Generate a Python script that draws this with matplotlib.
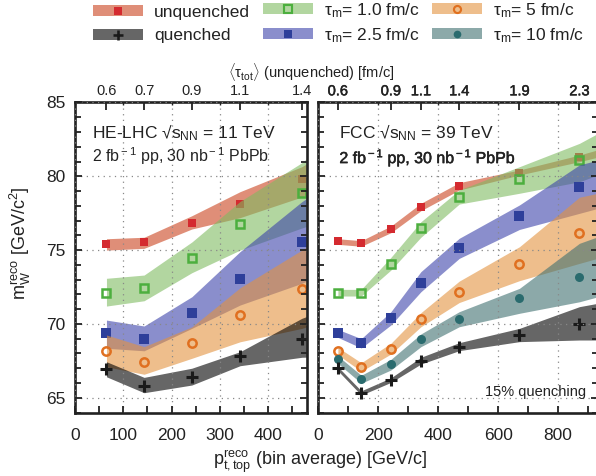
import matplotlib
matplotlib.use("Agg")
import matplotlib.pyplot as plt
import matplotlib.patheffects as pe
from matplotlib.patches import Patch
from matplotlib.lines import Line2D
from matplotlib.ticker import MultipleLocator

plt.rcParams['font.family'] = ['Liberation Sans', 'DejaVu Sans']
plt.rcParams['mathtext.fontset'] = 'custom'
plt.rcParams['mathtext.rm'] = 'Liberation Sans'
plt.rcParams['mathtext.it'] = 'Liberation Sans:italic'
plt.rcParams['mathtext.bf'] = 'Liberation Sans:bold'

# ---- data: HE-LHC (left panel) ----
x_he = [65, 143, 242, 342, 470]
xb_he = [65, 143, 242, 342, 470, 480]   # band edges run to the frame
tau_he = ['0.6', '0.7', '0.9', '1.1', '1.4']

he_unq = [75.39, 75.53, 76.82, 78.10, 79.82]
he_unq_hi = [75.77, 75.87, 77.33, 78.96, 80.65, 80.85]
he_unq_lo = [75.00, 75.12, 76.43, 77.20, 78.60, 78.75]
he_t1 = [72.11, 72.45, 74.49, 76.75, 78.85]
he_t1_hi = [73.09, 73.31, 75.55, 78.30, 80.92, 81.20]
he_t1_lo = [71.21, 71.57, 73.47, 75.00, 76.50, 76.60]
he_t25 = [69.36, 68.98, 70.72, 73.02, 75.57]
he_t25_hi = [70.26, 69.86, 71.84, 74.90, 78.28, 78.50]
he_t25_lo = [68.35, 68.18, 69.70, 71.28, 72.75, 72.90]
he_t5 = [68.14, 67.40, 68.69, 70.60, 72.34]
he_t5_hi = [69.25, 68.46, 69.80, 72.45, 75.00, 75.20]
he_t5_lo = [67.10, 66.59, 67.67, 68.79, 69.70, 69.80]
he_q = [66.92, 65.79, 66.43, 67.82, 68.96]
he_q_hi = [67.44, 66.38, 67.00, 68.12, 70.38, 70.50]
he_q_lo = [66.42, 65.34, 65.86, 67.17, 67.74, 67.75]

# ---- data: FCC (right panel) ----
x_fcc = [65, 143, 242, 342, 470, 671, 871]
xb_fcc = [65, 143, 242, 342, 470, 671, 871, 933]
tau_fcc_x = [65, 242, 342, 470, 671, 871]
tau_fcc = ['0.6', '0.9', '1.1', '1.4', '1.9', '2.3']

fcc_unq = [75.60, 75.46, 76.41, 77.90, 79.32, 80.24, 81.29]
fcc_unq_hi = [75.77, 75.64, 76.63, 78.17, 79.57, 80.43, 81.44, 81.80]
fcc_unq_lo = [75.39, 75.26, 76.18, 77.67, 79.07, 80.09, 80.99, 81.30]
fcc_t1 = [72.11, 72.11, 74.06, 76.48, 78.58, 79.82, 81.10]
fcc_t1_hi = [72.34, 72.34, 74.51, 76.92, 79.07, 80.65, 82.23, 82.91]
fcc_t1_lo = [71.89, 71.89, 73.65, 75.87, 78.12, 78.85, 79.63, 80.09]
fcc_t25 = [69.36, 68.69, 70.38, 72.79, 75.16, 77.31, 79.30]
fcc_t25_hi = [69.63, 69.00, 70.83, 73.54, 75.80, 78.06, 80.77, 81.10]
fcc_t25_lo = [69.09, 68.37, 69.93, 72.18, 74.44, 76.40, 77.49, 77.83]
fcc_t5 = [68.19, 67.06, 68.32, 70.33, 72.18, 74.08, 76.18]
fcc_t5_hi = [68.41, 67.37, 68.69, 70.76, 72.90, 75.23, 78.58, 78.85]
fcc_t5_lo = [67.91, 66.79, 67.96, 69.81, 71.45, 72.93, 74.10, 74.45]
fcc_t10 = [67.60, 66.25, 67.28, 68.96, 70.31, 71.73, 73.20]
fcc_t10_hi = [67.83, 66.52, 67.60, 69.32, 70.83, 72.41, 75.46, 75.91]
fcc_t10_lo = [67.33, 65.98, 66.88, 68.46, 69.81, 70.72, 71.50, 71.84]
fcc_q = [66.99, 65.34, 66.20, 67.51, 68.46, 69.23, 69.99]
fcc_q_hi = [67.10, 65.47, 66.35, 67.74, 68.73, 69.70, 71.17, 71.40]
fcc_q_lo = [66.83, 65.18, 66.04, 67.28, 68.19, 68.80, 68.91, 68.91]

legend_cols = [
    (['unq', 'q'], ['unquenched', 'quenched']),
    (['t1', 't25'], ['τ$_{\\rm m}$= 1.0 fm/c', 'τ$_{\\rm m}$= 2.5 fm/c']),
    (['t5', 't10'], ['τ$_{\\rm m}$= 5 fm/c', 'τ$_{\\rm m}$= 10 fm/c']),
]

# styles: band colour, marker, marker colour, filled?, size
ALPHA = 0.6
styles = {
    'unq': dict(band='#cb431e', marker='s', mc='#d42a2f', fill=True, ms=6.0),
    't1': dict(band='#7fbb61', marker='s', mc='#4caf3e', fill=False, ms=6.0),
    't25': dict(band='#3c43aa', marker='s', mc='#2e3f9a', fill=True, ms=7.0),
    't5': dict(band='#e3933f', marker='o', mc='#e07020', fill=False, ms=6.0),
    't10': dict(band='#3f7171', marker='o', mc='#2a6b6e', fill=True, ms=6.5),
    'q': dict(band='#000000', marker='P', mc='#1a1a1a', fill=True, ms=7.0),
}


def marker_kw(st, scale=1.0):
    if st['marker'] == 'P':
        return dict(marker='+', color=st['mc'], ms=(st['ms'] + 1) * scale, mew=2.2 * scale)
    if st['fill']:
        return dict(marker=st['marker'], color=st['mc'], ms=st['ms'] * scale, mew=0)
    return dict(marker=st['marker'], color=st['mc'], mfc='none', ms=st['ms'] * scale, mew=1.8 * scale)


def draw(ax, x, xb, y, lo, hi, key, i):
    st = styles[key]
    z = 1.0 + 0.2 * i
    ax.fill_between(xb, lo, hi, color=st['band'], alpha=ALPHA, lw=0, zorder=z)
    ax.plot(x, y, ls='none', zorder=z + 0.1, **marker_kw(st))


fig = plt.figure(figsize=(5.96, 4.76), dpi=100)
ax1 = fig.add_axes([75.1 / 596, 0.1334, 231.6 / 596, 0.6513])
ax2 = fig.add_axes([318.4 / 596, 0.1334, 279.6 / 596, 0.6513])

draw(ax1, x_he, xb_he, he_unq, he_unq_lo, he_unq_hi, 'unq', 0)
draw(ax1, x_he, xb_he, he_t1, he_t1_lo, he_t1_hi, 't1', 1)
draw(ax1, x_he, xb_he, he_t25, he_t25_lo, he_t25_hi, 't25', 2)
draw(ax1, x_he, xb_he, he_t5, he_t5_lo, he_t5_hi, 't5', 3)
draw(ax1, x_he, xb_he, he_q, he_q_lo, he_q_hi, 'q', 5)

draw(ax2, x_fcc, xb_fcc, fcc_unq, fcc_unq_lo, fcc_unq_hi, 'unq', 0)
draw(ax2, x_fcc, xb_fcc, fcc_t1, fcc_t1_lo, fcc_t1_hi, 't1', 1)
draw(ax2, x_fcc, xb_fcc, fcc_t25, fcc_t25_lo, fcc_t25_hi, 't25', 2)
draw(ax2, x_fcc, xb_fcc, fcc_t5, fcc_t5_lo, fcc_t5_hi, 't5', 3)
draw(ax2, x_fcc, xb_fcc, fcc_t10, fcc_t10_lo, fcc_t10_hi, 't10', 4)
draw(ax2, x_fcc, xb_fcc, fcc_q, fcc_q_lo, fcc_q_hi, 'q', 5)

bold_fx = [pe.withStroke(linewidth=0.35, foreground='#222222')]

for ax, xmax, xmaj, xmin, xs, tl in [(ax1, 480, 100, 50, x_he, tau_he),
                                      (ax2, 933, 200, 100, tau_fcc_x, tau_fcc)]:
    ax.set_xlim(0, xmax)
    ax.set_ylim(64, 85)
    ax.xaxis.set_major_locator(MultipleLocator(xmaj))
    ax.xaxis.set_minor_locator(MultipleLocator(xmin))
    ax.yaxis.set_major_locator(MultipleLocator(5))
    ax.yaxis.set_minor_locator(MultipleLocator(1))
    ax.tick_params(which='both', direction='in', right=True, top=False,
                   width=1.3, colors='#222222', labelsize=12.5)
    ax.tick_params(axis='x', which='major', length=5, pad=11)
    ax.tick_params(axis='x', which='minor', length=5)
    ax.tick_params(axis='y', which='major', length=5, pad=7)
    ax.tick_params(axis='y', which='minor', length=4)
    ax.set_axisbelow(False)
    ax.grid(True, which='major', ls=(0, (1, 3.5)), color='#888888', lw=0.9)
    for s in ax.spines.values():
        s.set_linewidth(1.9)
        s.set_color('#222222')
    at = ax.twiny()
    at.set_xlim(0, xmax)
    at.set_xticks(xs)
    at.set_xticklabels(tl)
    at.xaxis.set_minor_locator(MultipleLocator(xmaj))
    at.tick_params(which='major', direction='in', length=6, width=1.3,
                   labelsize=10.5, pad=3, colors='#222222')
    at.tick_params(which='minor', direction='in', length=2, width=1.0, colors='#222222')
    for s in at.spines.values():
        s.set_visible(False)
    if ax is ax2:
        for t in at.get_xticklabels():
            t.set_path_effects(bold_fx)

ax2.tick_params(labelleft=False)

# panel annotations
ax1.text(0.072, 0.902, 'HE-LHC √s$_{\\rm NN}$ = 11 TeV', transform=ax1.transAxes,
         fontsize=12.5, va='center', ha='left', color='#222222')
ax1.text(0.072, 0.828, '2 fb$^{\\rm -1}$ pp, 30 nb$^{\\rm -1}$ PbPb', transform=ax1.transAxes,
         fontsize=11.5, va='center', ha='left', color='#222222')
ax2.text(0.075, 0.902, 'FCC √s$_{\\rm NN}$ = 39 TeV', transform=ax2.transAxes,
         fontsize=12.5, va='center', ha='left', color='#222222')
ax2.text(0.075, 0.823, '2 fb$^{\\rm -1}$ pp, 30 nb$^{\\rm -1}$ PbPb', transform=ax2.transAxes,
         fontsize=11.5, va='center', ha='left', color='#222222', path_effects=bold_fx)
ax2.text(0.957, 0.067, '15% quenching', transform=ax2.transAxes,
         fontsize=10.5, va='center', ha='right', color='#222222')

# axis titles
fig.text(20 / 596, 1 - 243 / 476, 'm$_{\\rm W}^{\\rm reco}$ [GeV/c$^{\\rm 2}$]', rotation=90,
         fontsize=13, ha='center', va='center', color='#222222')
fig.text(320 / 596, 1 - 462 / 476, 'p$_{\\rm t,top}^{\\rm reco}$ (bin average) [GeV/c]',
         fontsize=13, ha='center', va='center', color='#222222')
fig.text(311 / 596, 1 - 72 / 476, '$\\langle$τ$_{\\rm tot}$$\\rangle$ (unquenched) [fm/c]',
         fontsize=10.5, ha='center', va='center', color='#222222')

# legend: one column per legend so each column sits where the reference has it;
# the plain-text column is shorter, so it gets its own offset and spacing
for (keys, labs), x0, y0, lsp in zip(legend_cols, [93, 263, 432], [5, 1, 1],
                                     [0.48, 0.36, 0.36]):
    handles = []
    for k in keys:
        st = styles[k]
        handles.append((Patch(facecolor=st['band'], alpha=ALPHA, lw=0),
                        Line2D([], [], ls='none', **marker_kw(st, 0.85))))
    leg = fig.legend(handles, labs, ncol=1, loc='upper left',
                     bbox_to_anchor=(x0 / 596, 1 - y0 / 476), frameon=False, fontsize=12.5,
                     handlelength=2.9, handleheight=0.6, handletextpad=0.6,
                     labelspacing=lsp, borderaxespad=0.0, borderpad=0.0)
    for t in leg.get_texts():
        t.set_color('#222222')

fig.savefig('out.png', dpi=100)
